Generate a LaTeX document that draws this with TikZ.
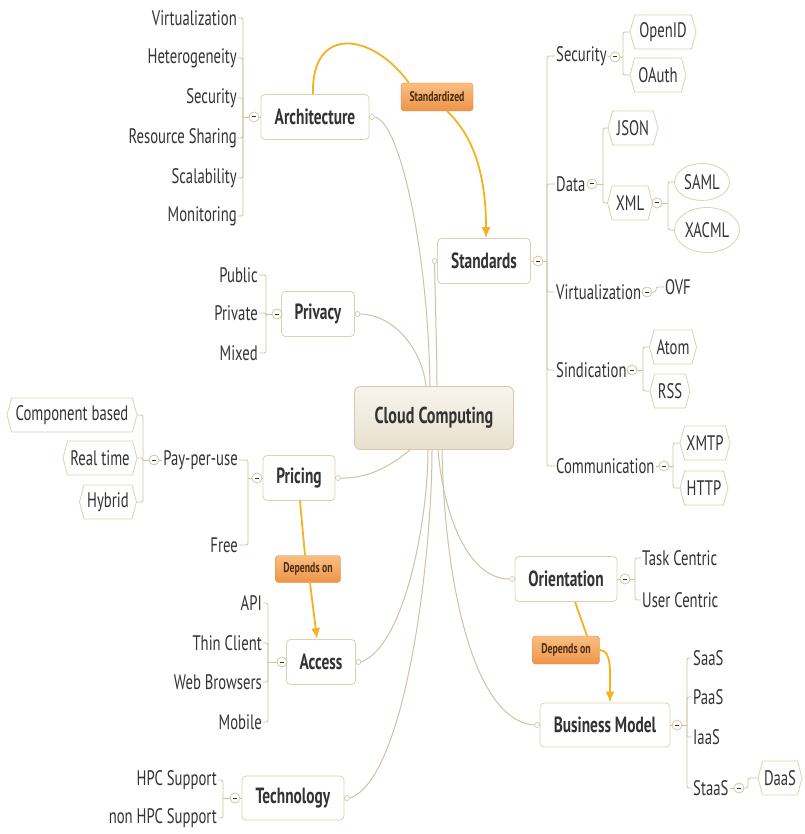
\documentclass[tikz,border=0pt]{standalone}
\usepackage{fontspec}
\setmainfont{PT Sans}[FakeStretch=0.7]
\usetikzlibrary{shapes.geometric,shapes.symbols,arrows.meta}
\definecolor{linec}{HTML}{CFC2A2}
\definecolor{boxline}{HTML}{DCD1B6}
\definecolor{txt}{HTML}{333333}
\definecolor{gold}{HTML}{F5B220}
\definecolor{orangeA}{HTML}{F9BE82}
\definecolor{orangeB}{HTML}{EE9448}
\definecolor{orangeL}{HTML}{E38A3E}
\definecolor{labtxt}{HTML}{4A2E14}
\definecolor{ccA}{HTML}{F8F5EE}
\definecolor{ccB}{HTML}{E8E0CE}
\definecolor{ccL}{HTML}{D5C9AC}
\tikzset{
 mainbox/.style={draw=boxline, fill=white, rounded corners=4pt, font=\fontsize{22}{24}\selectfont\bfseries, text=txt, minimum height=45pt, inner sep=0pt, line width=0.8pt},
 leaf/.style={font=\fontsize{21}{23}\selectfont, text=txt, inner xsep=1pt, inner ysep=0pt},
 hexa/.style={signal, signal to=east and west, signal pointer angle=150, draw=boxline, fill=white, minimum height=34pt, inner sep=0pt, font=\fontsize{21}{23}\selectfont, text=txt, line width=0.8pt},
 oval/.style={ellipse, draw=boxline, fill=white, inner sep=0pt, font=\fontsize{21}{23}\selectfont, text=txt, line width=0.8pt},
 btn/.style={circle, draw=linec, fill=white, minimum size=10pt, inner sep=0pt, line width=0.7pt, path picture={\draw[txt,line width=1pt] ([xshift=-2.2pt]path picture bounding box.center) -- ([xshift=2.2pt]path picture bounding box.center);}},
 dotc/.style={circle, draw=linec, fill=white, minimum size=5pt, inner sep=0pt, line width=0.6pt},
 br/.style={draw=linec, line width=0.8pt, rounded corners=2pt},
 trunk/.style={draw=linec, line width=1pt},
 rel/.style={draw=gold, line width=1.8pt},
 relarrow/.style={rel, -{Latex[length=11pt,width=9pt]}},
 lab/.style={draw=orangeL, top color=orangeA, bottom color=orangeB, rounded corners=3pt, font=\fontsize{14}{15}\selectfont\bfseries, text=labtxt, inner sep=0pt, minimum height=28pt},
}
\begin{document}
\begin{tikzpicture}[x=1pt,y=-1pt]
\useasboundingbox (0,0) rectangle (804,834);

% ---------- main nodes ----------
\node[draw=ccL, top color=ccA, bottom color=ccB, rounded corners=6pt, line width=0.9pt, minimum width=159pt, minimum height=63pt, inner sep=0pt, font=\fontsize{23}{25}\selectfont\bfseries, text=txt] (cc) at (434,418) {Cloud Computing};
\node[mainbox, minimum width=108pt] (arch) at (315,117) {Architecture};
\node[mainbox, minimum width=93pt] (std) at (484,261) {Standards};
\node[mainbox, minimum width=73pt] (priv) at (318,314) {Privacy};
\node[mainbox, minimum width=72pt] (pric) at (299,478) {Pricing};
\node[mainbox, minimum width=69pt] (acc) at (321,662) {Access};
\node[mainbox, minimum width=102pt, minimum height=44pt] (tech) at (293,798) {Technology};
\node[mainbox, minimum width=102pt] (ori) at (566,579) {Orientation};
\node[mainbox, minimum width=130pt, minimum height=44pt] (bm) at (605,725) {Business Model};

% ---------- relation labels ----------
\node[lab, minimum width=72pt] (l1) at (437,97) {Standardized};
\node[lab, minimum width=65pt, minimum height=27pt] (l2) at (308,569) {Depends on};
\node[lab, minimum width=67pt] (l3) at (566,650) {Depends on};

% ---------- Architecture children ----------
\node[leaf, anchor=east] (av) at (238,18) {Virtualization};
\node[leaf, anchor=east] (ah) at (238,58) {Heterogeneity};
\node[leaf, anchor=east] (as) at (238,98) {Security};
\node[leaf, anchor=east] (ar) at (238,138) {Resource Sharing};
\node[leaf, anchor=east] (asc) at (238,178) {Scalability};
\node[leaf, anchor=east] (am) at (238,216) {Monitoring};
\node[btn] (archb) at (254,117) {};
\coordinate (archj) at (243,117);

% ---------- Privacy children ----------
\node[leaf, anchor=east] (pbl) at (259,275) {Public};
\node[leaf, anchor=east] (ppr) at (259,313) {Private};
\node[leaf, anchor=east] (pmx) at (259,353) {Mixed};
\node[btn] (privb) at (277,314) {};
\coordinate (privj) at (266,314);

% ---------- Pricing children ----------
\node[leaf, anchor=east] (ppu) at (239,460) {Pay-per-use};
\node[leaf, anchor=east] (pfree) at (239,545) {Free};
\node[btn] (pricb) at (257,478) {};
\coordinate (pricj) at (248,478);
\node[btn] (ppub) at (154,460) {};
\coordinate (ppuj) at (143,460);
\node[hexa, minimum width=130pt] (hcb) at (72,415) {Component based};
\node[hexa, minimum width=74pt] (hrt) at (100,458) {Real time};
\node[hexa, minimum width=57pt] (hhy) at (108,502) {Hybrid};

% ---------- Access children ----------
\node[leaf, anchor=east] (xapi) at (263,603) {API};
\node[leaf, anchor=east] (xthin) at (263,643) {Thin Client};
\node[leaf, anchor=east] (xweb) at (263,682) {Web Browsers};
\node[leaf, anchor=east] (xmob) at (263,722) {Mobile};
\node[btn] (accb) at (282,662) {};
\coordinate (accj) at (268,662);

% ---------- Technology children ----------
\node[leaf, anchor=east] (thpc) at (218,780) {HPC Support};
\node[leaf, anchor=east] (tnon) at (218,818) {non HPC Support};
\node[btn] (techb) at (235,798) {};
\coordinate (techj) at (223,798);

% ---------- Standards children ----------
\node[btn] (stdb) at (538,261) {};
\coordinate (stdj) at (547,261);
\node[leaf, anchor=west] (ssec) at (555,56) {Security};
\node[leaf, anchor=west] (sdata) at (555,184) {Data};
\node[leaf, anchor=west] (svirt) at (555,292) {Virtualization};
\node[leaf, anchor=west] (ssind) at (555,370) {Sindication};
\node[leaf, anchor=west] (scomm) at (555,466) {Communication};

\node[btn] (secb) at (615,57) {};
\coordinate (secj) at (623,57);
\node[hexa, minimum width=66pt] (hopen) at (663,32) {OpenID};
\node[hexa, minimum width=56pt] (hoauth) at (658,75) {OAuth};

\node[btn] (datab) at (592,184) {};
\coordinate (dataj) at (603,184);
\node[hexa, minimum width=50pt] (hjson) at (633,128) {JSON};
\node[hexa, minimum width=45pt] (hxml) at (630,203) {XML};
\node[btn] (xmlb) at (657,203) {};
\coordinate (xmlj) at (668,203);
\node[oval, minimum width=55pt, minimum height=37pt] (esaml) at (702,182) {SAML};
\node[oval, minimum width=65pt, minimum height=45pt] (exacml) at (707,230) {XACML};

\node[btn] (virtb) at (647,292) {};
\coordinate (virtj) at (656,292);
\node[leaf, anchor=west] (covf) at (664,287) {OVF};

\node[btn] (sindb) at (632,370) {};
\coordinate (sindj) at (643,370);
\node[hexa, minimum width=47pt] (hatom) at (673,347) {Atom};
\node[hexa, minimum width=40pt] (hrss) at (670,391) {RSS};

\node[btn] (commb) at (664,466) {};
\coordinate (commj) at (673,466);
\node[hexa, minimum width=50pt] (hxmtp) at (705,443) {XMTP};
\node[hexa, minimum width=48pt] (hhttp) at (704,488) {HTTP};

% ---------- Orientation children ----------
\node[btn] (orib) at (625,579) {};
\coordinate (orij) at (635,579);
\node[leaf, anchor=west] (otask) at (641,558) {Task Centric};
\node[leaf, anchor=west] (ouser) at (641,600) {User Centric};

% ---------- Business Model children ----------
\node[btn] (bmb) at (677,725) {};
\coordinate (bmj) at (687,725);
\node[leaf, anchor=west] (bsaas) at (692,658) {SaaS};
\node[leaf, anchor=west] (bpaas) at (692,697) {PaaS};
\node[leaf, anchor=west] (biaas) at (692,737) {IaaS};
\node[leaf, anchor=west] (bstaas) at (692,788) {StaaS};
\node[btn] (staasb) at (739,788) {};
\coordinate (staasj) at (748,788);
\node[hexa, minimum width=44pt] (hdaas) at (780,778) {DaaS};

% ---------- brackets ----------
\draw[br] (arch.west) -- (archb.east);
\draw[br] (archb.west) -- (archj);
\foreach \n in {av,ah,as,ar,asc,am} \draw[br] (archj) |- (\n.east);

\draw[br] (priv.west) -- (privb.east);
\draw[br] (privb.west) -- (privj);
\foreach \n in {pbl,ppr,pmx} \draw[br] (privj) |- (\n.east);

\draw[br] (pric.west) -- (pricb.east);
\draw[br] (pricb.west) -- (pricj);
\foreach \n in {ppu,pfree} \draw[br] (pricj) |- (\n.east);
\draw[br] (ppu.west) -- (ppub.east);
\draw[br] (ppub.west) -- (ppuj);
\foreach \n in {hcb,hrt,hhy} \draw[br] (ppuj) |- (\n.east);

\draw[br] (acc.west) -- (accb.east);
\draw[br] (accb.west) -- (accj);
\foreach \n in {xapi,xthin,xweb,xmob} \draw[br] (accj) |- (\n.east);

\draw[br] (tech.west) -- (techb.east);
\draw[br] (techb.west) -- (techj);
\foreach \n in {thpc,tnon} \draw[br] (techj) |- (\n.east);

\draw[br] (std.east) -- (stdb.west);
\draw[br] (stdb.east) -- (stdj);
\foreach \n in {ssec,sdata,svirt,ssind,scomm} \draw[br] (stdj) |- (\n.west);

\draw[br] (ssec.east) -- (secb.west);
\draw[br] (secb.east) -- (secj);
\foreach \n in {hopen,hoauth} \draw[br] (secj) |- (\n.west);

\draw[br] (sdata.east) -- (datab.west);
\draw[br] (datab.east) -- (dataj);
\foreach \n in {hjson,hxml} \draw[br] (dataj) |- (\n.west);
\draw[br] (hxml.east) -- (xmlb.west);
\draw[br] (xmlb.east) -- (xmlj);
\foreach \n in {esaml,exacml} \draw[br] (xmlj) |- (\n.west);

\draw[br] (svirt.east) -- (virtb.west);
\draw[br] (virtb.east) -- (virtj) |- (covf.west);

\draw[br] (ssind.east) -- (sindb.west);
\draw[br] (sindb.east) -- (sindj);
\foreach \n in {hatom,hrss} \draw[br] (sindj) |- (\n.west);

\draw[br] (scomm.east) -- (commb.west);
\draw[br] (commb.east) -- (commj);
\foreach \n in {hxmtp,hhttp} \draw[br] (commj) |- (\n.west);

\draw[br] (ori.east) -- (orib.west);
\draw[br] (orib.east) -- (orij);
\foreach \n in {otask,ouser} \draw[br] (orij) |- (\n.west);

\draw[br] (bm.east) -- (bmb.west);
\draw[br] (bmb.east) -- (bmj);
\foreach \n in {bsaas,bpaas,biaas,bstaas} \draw[br] (bmj) |- (\n.west);
\draw[br] (bstaas.east) -- (staasb.west);
\draw[br] (staasb.east) -- (staasj) |- (hdaas.west);

% ---------- trunk connectors ----------
\node[dotc] (archd) at ([xshift=2.5pt]arch.east) {};
\node[dotc] (stdd) at ([xshift=-2.5pt]std.west) {};
\node[dotc] (privd) at ([xshift=2.5pt]priv.east) {};
\node[dotc] (pricd) at ([xshift=2.5pt]pric.east) {};
\node[dotc] (accd) at ([xshift=2.5pt]acc.east) {};
\node[dotc] (techd) at ([xshift=2.5pt]tech.east) {};
\node[dotc] (orid) at ([xshift=-2.5pt]ori.west) {};
\node[dotc] (bmd) at ([xshift=-2.5pt]bm.west) {};

\draw[trunk] (archd.east) .. controls (400,122) and (428,250) .. ([xshift=-4pt]cc.north);
\draw[trunk] (stdd.south) .. controls (435,300) and (437,350) .. ([xshift=3pt]cc.north);
\draw[trunk] (privd.east) .. controls (395,315) and (422,350) .. ([xshift=-8pt]cc.north);
\draw[trunk] (pricd.east) .. controls (375,479) and (400,458) .. ([xshift=-24pt]cc.south);
\draw[trunk] (accd.east) .. controls (405,645) and (428,520) .. ([xshift=-6pt]cc.south);
\draw[trunk] (techd.east) .. controls (405,780) and (432,560) .. ([xshift=-2pt]cc.south);
\draw[trunk] (orid.west) .. controls (470,579) and (444,520) .. ([xshift=4pt]cc.south);
\draw[trunk] (bmd.west) .. controls (470,720) and (444,570) .. ([xshift=8pt]cc.south);

% ---------- relations ----------
\draw[rel] ([xshift=-2pt]arch.north) .. controls (311,25) and (372,32) .. ([xshift=8pt]l1.north west);
\draw[relarrow] ([xshift=10pt]l1.south) .. controls (478,140) and (486,185) .. ([xshift=2pt]std.north);
\draw[rel] ([xshift=1pt]pric.south) -- ([xshift=-3pt]l2.north);
\draw[relarrow] ([xshift=2pt]l2.south) -- ([xshift=-4pt]acc.north);
\draw[rel] ([xshift=9pt]ori.south) -- ([xshift=21pt]l3.north);
\draw[relarrow] (l3.east) .. controls (612,650) and (610,672) .. ([xshift=5pt]bm.north);
\end{tikzpicture}
\end{document}
